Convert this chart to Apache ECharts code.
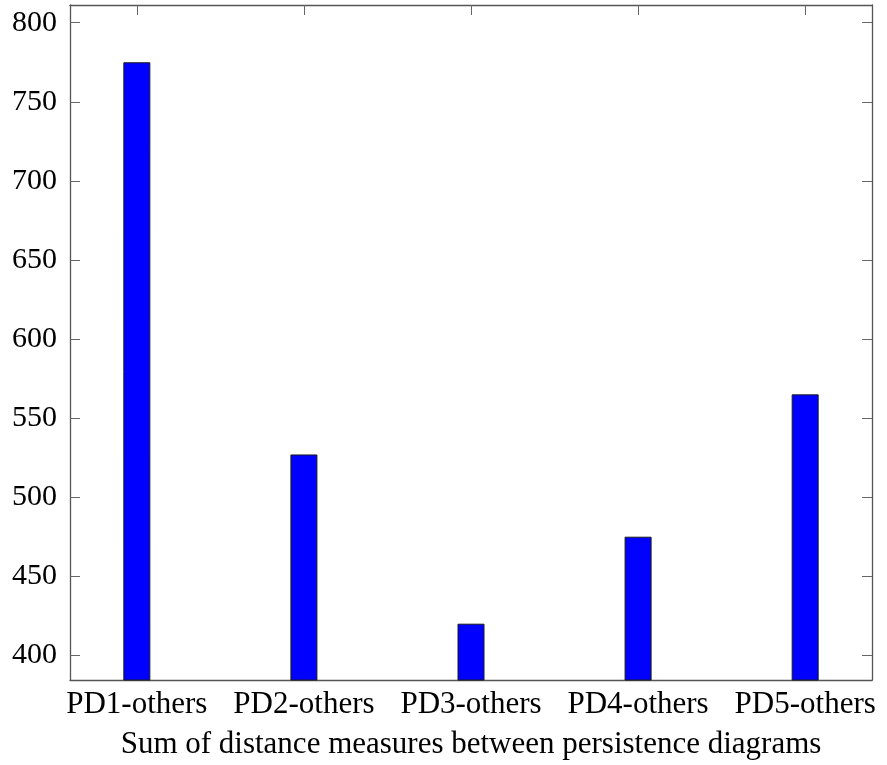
<!DOCTYPE html>
<html>
<head>
<meta charset="utf-8">
<script src="https://cdn.jsdelivr.net/npm/echarts@6/dist/echarts.min.js"></script>
<style>html,body{margin:0;padding:0;background:#fff;}#c{width:887px;height:765px;}</style>
</head>
<body>
<div id="c"></div>
<script>
const categories = ['PD1-others', 'PD2-others', 'PD3-others', 'PD4-others', 'PD5-others'];
const values = [775, 527, 420, 475, 565];
const yTicks = [400, 450, 500, 550, 600, 650, 700, 750, 800];
const xTitle = 'Sum of distance measures between persistence diagrams';

const xPos = categories.map((c, i) => i + 1);
const FONT = '"Liberation Serif", "DejaVu Serif", serif';
const axisLineStyle = { color: '#555', width: 1.3 };
const tickStyle = { color: '#666', width: 1 };

const chart = echarts.init(document.getElementById('c'), null, { renderer: 'canvas' });
chart.setOption({
  animation: false,
  backgroundColor: '#fff',
  grid: { left: 70, top: 5, right: 15, bottom: 84, containLabel: false },
  xAxis: [{
    type: 'value', min: 0.6, max: 5.4, position: 'bottom',
    name: xTitle, nameLocation: 'middle', nameGap: 49,
    nameTextStyle: { fontFamily: FONT, fontSize: 31, color: '#000' },
    axisLine: { show: true, lineStyle: axisLineStyle },
    axisTick: { show: true, inside: true, length: 10, lineStyle: tickStyle, customValues: xPos },
    axisLabel: { customValues: xPos, fontFamily: FONT, fontSize: 31, color: '#000', margin: 9,
      formatter: v => categories[Math.round(v) - 1] || '' },
    splitLine: { show: false }
  }, {
    type: 'value', min: 0.6, max: 5.4, position: 'top',
    axisLine: { show: true, lineStyle: axisLineStyle },
    axisTick: { show: true, inside: true, length: 10, lineStyle: tickStyle, customValues: xPos },
    axisLabel: { show: false },
    splitLine: { show: false }
  }],
  yAxis: [{
    type: 'value', min: 384.4, max: 811.2, position: 'left',
    axisLine: { show: true, lineStyle: axisLineStyle },
    axisTick: { show: true, inside: true, length: 10, lineStyle: tickStyle, customValues: yTicks },
    axisLabel: { customValues: yTicks, fontFamily: FONT, fontSize: 30, color: '#000', margin: 13 },
    splitLine: { show: false }
  }, {
    type: 'value', min: 384.4, max: 811.2, position: 'right',
    axisLine: { show: true, lineStyle: axisLineStyle },
    axisTick: { show: true, inside: true, length: 10, lineStyle: tickStyle, customValues: yTicks },
    axisLabel: { show: false },
    splitLine: { show: false }
  }],
  series: [{
    type: 'bar',
    xAxisIndex: 0, yAxisIndex: 0,
    barWidth: 27,
    data: xPos.map((x, i) => [x, values[i]]),
    itemStyle: { color: '#0000ff', borderColor: '#1a1a1a', borderWidth: 1 },
    clip: true
  }]
});
</script>
</body>
</html>
